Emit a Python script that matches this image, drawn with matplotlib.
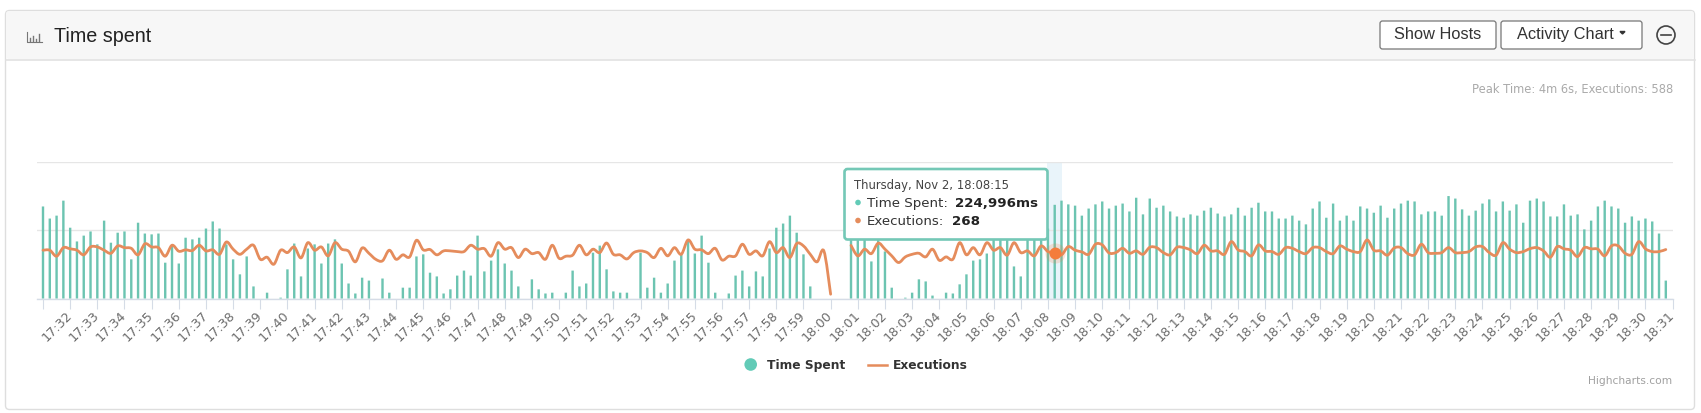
"""Time spent activity chart"""

import numpy as np
import matplotlib
matplotlib.use('Agg')
import matplotlib.pyplot as plt
from matplotlib.patches import FancyBboxPatch, Rectangle, Circle, PathPatch
from matplotlib.path import Path

# one sample every 15 s, starting at 17:31:00
time_spent_s = [
    221, 192, 199, 235, 170, 137, 151, 161, 130, 187,
    134, 158, 161, 94, 182, 156, 154, 156, 86, 127,
    84, 146, 142, 146, 168, 185, 168, 130, 94, 58,
    101, 29, 0, 14, 0, 2, 70, 132, 53, 120,
    130, 84, 132, 142, 84, 36, 12, 50, 43, 0,
    48, 14, 0, 26, 26, 101, 106, 62, 53, 12,
    22, 55, 67, 55, 151, 65, 91, 118, 84, 67,
    29, 0, 46, 22, 12, 14, 0, 14, 67, 29,
    36, 110, 127, 70, 17, 14, 14, 0, 110, 26,
    50, 14, 36, 91, 106, 139, 108, 151, 86, 14,
    0, 12, 55, 67, 29, 65, 53, 120, 170, 180,
    199, 158, 106, 29, 0, 0, 0, 0, 0, 173,
    168, 156, 89, 144, 113, 26, 0, 2, 14, 46,
    41, 7, 0, 14, 12, 34, 58, 91, 94, 108,
    144, 149, 144, 77, 53, 144, 149, 156, 168, 225,
    235, 226, 223, 199, 216, 226, 233, 216, 223, 228,
    209, 242, 202, 240, 218, 223, 209, 197, 194, 202,
    199, 211, 218, 204, 197, 202, 218, 199, 218, 230,
    209, 209, 192, 192, 199, 187, 178, 216, 233, 194,
    228, 187, 199, 187, 221, 216, 206, 223, 194, 216,
    228, 235, 233, 202, 209, 209, 199, 246, 240, 214,
    199, 211, 228, 238, 209, 233, 211, 226, 182, 235,
    240, 233, 197, 197, 226, 199, 202, 166, 187, 221,
    235, 221, 216, 182, 197, 187, 192, 185, 156, 43,
]

nan = float('nan')
executions = [
    282, 282, 247, 297, 290, 282, 255, 301, 301, 282,
    264, 307, 297, 293, 255, 319, 301, 297, 247, 311,
    276, 284, 280, 311, 278, 284, 258, 330, 288, 258,
    288, 311, 229, 241, 200, 282, 268, 301, 237, 326,
    282, 301, 249, 326, 288, 276, 214, 295, 264, 229,
    220, 282, 229, 255, 243, 340, 284, 286, 255, 278,
    278, 274, 274, 311, 288, 291, 247, 326, 288, 297,
    239, 288, 262, 268, 229, 311, 235, 247, 253, 311,
    255, 288, 268, 324, 258, 255, 231, 268, 278, 268,
    239, 293, 249, 297, 258, 342, 288, 284, 262, 293,
    225, 247, 249, 317, 258, 278, 249, 332, 268, 297,
    239, 321, 307, 258, 214, 278, 25, nan, nan, 310,
    249, 288, 262, 323, 288, 249, 210, 243, 258, 264,
    243, 288, 223, 243, 229, 326, 255, 297, 255, 326,
    282, 297, 253, 326, 268, 278, 249, 307, 274, 268,
    255, 303, 282, 272, 258, 317, 313, 266, 268, 293,
    264, 278, 258, 299, 297, 268, 255, 299, 297, 284,
    262, 311, 278, 278, 258, 332, 284, 274, 249, 313,
    278, 274, 258, 297, 293, 274, 262, 297, 297, 274,
    262, 307, 288, 274, 274, 342, 282, 278, 253, 295,
    297, 262, 255, 317, 268, 264, 268, 297, 268, 268,
    274, 301, 303, 268, 253, 326, 288, 268, 274, 291,
    297, 278, 241, 303, 290, 282, 245, 297, 290, 288,
    249, 307, 307, 264, 258, 332, 290, 274, 274, 286,
]

minute_labels = [''] + ['17:%02d' % m for m in range(32, 60)] + ['18:%02d' % m for m in range(0, 32)]
hover_index = 149

W, H = 1701, 414
OFF = 1.5  # everything sits a little lower than first measured
TEAL = '#6cc4b1'
ORANGE = '#e58c5c'
SANS = ['Liberation Sans', 'DejaVu Sans']


def spline_path(xs, ys):
    """Catmull-Rom style bezier through the points"""
    verts = [(xs[0], ys[0])]
    codes = [Path.MOVETO]
    n = len(xs)
    for i in range(n - 1):
        p0 = (xs[max(i - 1, 0)], ys[max(i - 1, 0)])
        p1 = (xs[i], ys[i])
        p2 = (xs[i + 1], ys[i + 1])
        p3 = (xs[min(i + 2, n - 1)], ys[min(i + 2, n - 1)])
        c1 = (p1[0] + (p2[0] - p0[0]) / 6, p1[1] + (p2[1] - p0[1]) / 6)
        c2 = (p2[0] - (p3[0] - p1[0]) / 6, p2[1] - (p3[1] - p1[1]) / 6)
        verts += [c1, c2, p2]
        codes += [Path.CURVE4] * 3
    return Path(verts, codes)


fig = plt.figure(figsize=(W / 100, H / 100), dpi=100, facecolor='white')

# background layer in pixel coordinates: card and header
bg = fig.add_axes([0, 0, 1, 1], zorder=0)
bg.set_xlim(0, W)
bg.set_ylim(H - OFF, -OFF)
bg.axis('off')
bg.add_patch(FancyBboxPatch((5.5, 10), 1689, 399, boxstyle='round,pad=0,rounding_size=4',
                            fc='white', ec='#dedede', lw=1))
bg.add_patch(FancyBboxPatch((6, 10.5), 1688, 48, boxstyle='round,pad=0,rounding_size=3',
                            fc='#f7f7f7', ec='none'))
bg.plot([5.5, 1694.5], [59, 59], color='#e2e2e2', lw=1.2)

# little chart icon
bg.plot([27, 27, 42], [31, 41, 41], color='#777777', lw=0.8)
for x, top in zip([30, 33, 36, 39], [37, 35, 38, 33]):
    bg.plot([x, x], [top, 40], color='#777777', lw=1)

bg.text(54, 35, 'Time spent', fontsize=14.2, color='#222222', family=SANS, ha='left', va='center')

for x0, x1, label in [(1380, 1496, 'Show Hosts'), (1501, 1642, 'Activity Chart')]:
    bg.add_patch(FancyBboxPatch((x0, 20.5), x1 - x0, 28, boxstyle='round,pad=0,rounding_size=2.5',
                                fc='white', ec='#777777', lw=0.9))
bg.text(1438, 37.5, 'Show Hosts', fontsize=11.8, color='#333333', family=SANS, ha='center', va='baseline')
bg.text(1517, 37.5, 'Activity Chart', fontsize=11.8, color='#333333', family=SANS, ha='left', va='baseline')
bg.fill([1620, 1625, 1622.5], [31, 31, 33.5], color='#333333')
bg.add_patch(Circle((1666, 34.5), 9, fc='none', ec='#444444', lw=1.2))
bg.plot([1661, 1671], [34.5, 34.5], color='#444444', lw=1.2)

bg.text(1673, 87.5, 'Peak Time: 4m 6s, Executions: 588', fontsize=8.3, color='#aaaaaa',
        ha='right', va='center')
bg.text(1672, 380, 'Highcharts.com', fontsize=7.7, color='#a0a0a0', ha='right', va='center')

# hover band
bg.add_patch(Rectangle((1047, 161), 15, 137, fc='#e9f4fa', ec='none'))

# legend
bg.add_patch(Circle((750.7, 364), 6.3, fc='#62cbb7', ec='none'))
bg.text(767, 364, 'Time Spent', fontsize=8.8, fontweight='bold', color='#333333', ha='left', va='center')
bg.plot([868, 887], [364.5, 364.5], color=ORANGE, lw=1.8)
bg.text(893, 364, 'Executions', fontsize=8.8, fontweight='bold', color='#333333', ha='left', va='center')

# chart
left, right, top, bottom = 36.7, 1672.6, 161 + OFF, 298 + OFF
rect = [left / W, 1 - bottom / H, (right - left) / W, (bottom - top) / H]
ax = fig.add_axes(rect, zorder=1)
ax.patch.set_alpha(0)
x = np.arange(len(time_spent_s)) * 0.25  # minutes after 17:31

bars = ax.bar(x, time_spent_s, width=0.088, color=TEAL, linewidth=0, zorder=3)
for b in bars:
    b.set_snap(False)  # keep all bars the same width
ax.set_xlim(-0.232, 60)
ax.set_ylim(0, 329)
ax.set_yticks([0, 164.5, 329])
ax.set_yticklabels([])
ax.tick_params(axis='y', length=0)
ax.grid(axis='y', color='#e6e6e6', linewidth=1)
ax.set_axisbelow(True)
for side in ['top', 'left', 'right']:
    ax.spines[side].set_visible(False)
ax.spines['bottom'].set_color('#d5dce6')
ax.spines['bottom'].set_linewidth(1)

ax.set_xticks(np.arange(0, 61))
ax.set_xticklabels(minute_labels, rotation=45, ha='right', va='center', rotation_mode='anchor',
                   fontsize=9.2, color='#6b6b6b')
ax.tick_params(axis='x', length=7.2, width=0.8, color='#d5dce6', pad=3.2)

# executions on their own axis, drawn over the bars
ax2 = ax.twinx()
ax2.set_ylim(0, 800)
ax2.set_yticks([])
for side in ax2.spines:
    ax2.spines[side].set_visible(False)
ex = np.array(executions, dtype=float)
first = ~np.isnan(ex) & (np.arange(len(ex)) < 117)
second = ~np.isnan(ex) & (np.arange(len(ex)) > 118)
for mask in [first, second]:
    ax2.add_patch(PathPatch(spline_path(x[mask], ex[mask]), fc='none', ec=ORANGE, lw=2.0,
                            capstyle='round', joinstyle='round', zorder=4))
ax2.plot(x[hover_index], ex[hover_index], 'o', ms=14.5, color='#f47c3c', alpha=0.2, mew=0, zorder=5)
ax2.plot(x[hover_index], ex[hover_index], 'o', ms=8.6, color='#f47c3c', mew=0, zorder=6)

# tooltip on top
fg = fig.add_axes([0, 0, 1, 1], zorder=3)
fg.set_xlim(0, W)
fg.set_ylim(H - OFF, -OFF)
fg.axis('off')
fg.patch.set_alpha(0)
fg.add_patch(FancyBboxPatch((844.5, 168.5), 203, 70.5, boxstyle='round,pad=0,rounding_size=3',
                            fc='white', ec='#74c8b6', lw=1.9))
fg.text(854, 184, 'Thursday, Nov 2, 18:08:15', fontsize=8.4, color='#444444', ha='left', va='center')
fg.add_patch(Circle((858, 202), 2.8, fc='#62cbb7', ec='none'))
fg.text(867, 202, 'Time Spent:', fontsize=9.6, color='#333333', ha='left', va='center')
fg.text(955, 202, '224,996ms', fontsize=9.6, fontweight='bold', color='#222222', ha='left', va='center')
fg.add_patch(Circle((858, 220), 2.8, fc=ORANGE, ec='none'))
fg.text(867, 220, 'Executions:', fontsize=9.6, color='#333333', ha='left', va='center')
fg.text(952, 220, '268', fontsize=9.6, fontweight='bold', color='#222222', ha='left', va='center')

fig.savefig('out.png', dpi=100)
